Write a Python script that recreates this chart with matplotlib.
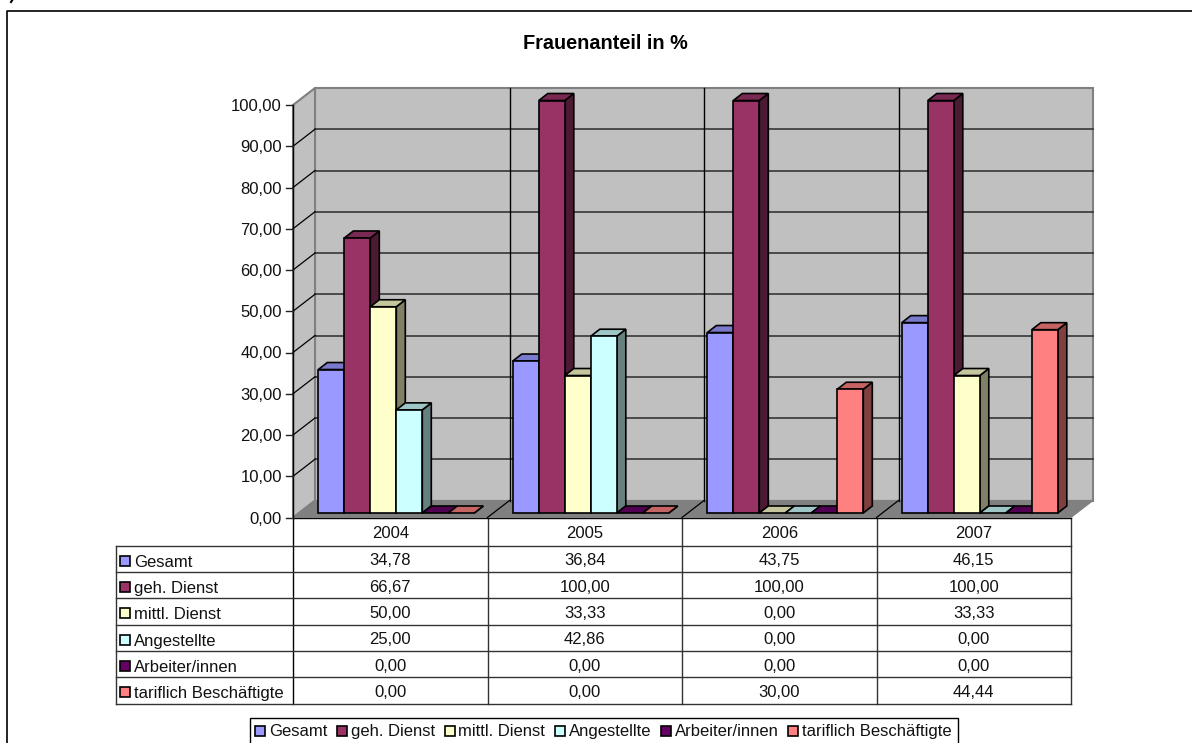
import numpy as np
import matplotlib
matplotlib.use("Agg")
import matplotlib.pyplot as plt
from matplotlib.patches import Polygon, Rectangle

plt.rcParams['font.family'] = ['Liberation Sans', 'DejaVu Sans']

# Data
years = ['2004', '2005', '2006', '2007']
series = ['Gesamt', 'geh. Dienst', 'mittl. Dienst', 'Angestellte', 'Arbeiter/innen', 'tariflich Beschäftigte']
gesamt = [34.78, 36.84, 43.75, 46.15]
geh_dienst = [66.67, 100.00, 100.00, 100.00]
mittl_dienst = [50.00, 33.33, 0.00, 33.33]
angestellte = [25.00, 42.86, 0.00, 0.00]
arbeiter = [0.00, 0.00, 0.00, 0.00]
tariflich = [0.00, 0.00, 30.00, 44.44]
values = [gesamt, geh_dienst, mittl_dienst, angestellte, arbeiter, tariflich]
y_ticks = list(range(0, 101, 10))

# Face colours, then the darker top and side
colors = ['#9999FF', '#993366', '#FFFFCC', '#CCFFFF', '#660066', '#FF8080']
tops = ['#7A7ACC', '#7A2952', '#C6C69E', '#9EC6C6', '#520052', '#C66464']
sides = ['#4D4D80', '#4D1A33', '#808066', '#668080', '#330033', '#804040']
TEXT = '#111111'
FS = 12


def german(v):
    return f'{v:.2f}'.replace('.', ',')


W, H = 1192, 743
fig = plt.figure(figsize=(W / 100, H / 100), dpi=100)

# Pixel axes for frame, title, table and legend
page = fig.add_axes([0, 0, 1, 1])
page.set_xlim(0, W)
page.set_ylim(H, 0)
page.axis('off')

# Plot axes sit on the front plane of the 3D box
x0, x1, y_top, y_bot = 293, 1071, 105, 517.5
ax = fig.add_axes([x0 / W, 1 - y_bot / H, (x1 - x0) / W, (y_bot - y_top) / H])
ax.set_xlim(0, len(years))
ax.set_ylim(0, 100)
ax.axis('off')
ax.patch.set_alpha(0)

px_x = len(years) / (x1 - x0)
px_y = 100 / (y_bot - y_top)
box_dx, box_dy = 22 * px_x, 17 * px_y
n_years = len(years)

# Page frame
page.plot([6.5, 6.5, W + 5], [H + 5, 10.5, 10.5], color='black', lw=1.2, clip_on=False)
page.plot([11, 13], [2, -1], color='black', lw=1.5)
page.text(605, 43.5, 'Frauenanteil in %', ha='center', va='center', fontsize=14.3, fontweight='bold')

# Walls and floor
wall = '#C0C0C0'
edge = '#808080'
ax.add_patch(Polygon([(box_dx, box_dy), (n_years + box_dx, box_dy), (n_years + box_dx, 100 + box_dy), (box_dx, 100 + box_dy)],
                     fc=wall, ec=edge, lw=1.5, clip_on=False, zorder=1))
ax.add_patch(Polygon([(0, 0), (box_dx, box_dy), (box_dx, 100 + box_dy), (0, 100)],
                     fc=wall, ec=edge, lw=1.5, clip_on=False, zorder=1))
ax.add_patch(Polygon([(0, 0), (n_years, 0), (n_years + box_dx, box_dy), (box_dx, box_dy)],
                     fc=edge, ec=edge, lw=0.8, clip_on=False, zorder=1.5))

# Gridlines on the walls
for t in y_ticks[1:-1]:
    ax.plot([box_dx, n_years + box_dx], [t + box_dy, t + box_dy], color='#2A2A2A', lw=1.1, clip_on=False, zorder=2)
    ax.plot([0, box_dx], [t, t + box_dy], color='black', lw=0.9, clip_on=False, zorder=2)
for i in range(1, n_years):
    ax.plot([i + box_dx, i + box_dx], [box_dy, 100 + box_dy], color='black', lw=1.0, clip_on=False, zorder=2)
    ax.plot([i, i + box_dx], [0, box_dy], color='black', lw=0.9, clip_on=False, zorder=2)

# Left axis with ticks and labels
ax.plot([0, 0], [0, 100], color='black', lw=1.0, clip_on=False, zorder=2.5)
for t in y_ticks:
    ax.plot([-7 * px_x, 0], [t, t], color='#222222', lw=1.0, clip_on=False, zorder=2.5)
    ax.text(-11 * px_x, t, german(t), ha='right', va='center_baseline', fontsize=FS, color=TEXT)

# Bars, drawn back to front inside each group
bar_w = 26 * px_x
margin = 19.5 * px_x
front_dx, front_dy = 5.8 * px_x, 4.5 * px_y
depth_dx, depth_dy = 9 * px_x, 7 * px_y
z = 3
for g in range(n_years):
    for s in range(len(series)):
        v = values[s][g]
        left = g + margin + s * bar_w + front_dx
        right = left + bar_w
        base = front_dy
        top = base + v
        ax.add_patch(Polygon([(right, base), (right + depth_dx, base + depth_dy), (right + depth_dx, top + depth_dy), (right, top)],
                             fc=sides[s], ec='black', lw=1.2, clip_on=False, zorder=z))
        ax.add_patch(Polygon([(left, top), (right, top), (right + depth_dx, top + depth_dy), (left + depth_dx, top + depth_dy)],
                             fc=tops[s], ec='black', lw=1.2, clip_on=False, zorder=z))
        if v > 0:
            ax.add_patch(Rectangle((left, base), bar_w, v, fc=colors[s], ec='black', lw=1.2, clip_on=False, zorder=z + 0.1))
        z += 0.2

# Data table
col_x = np.linspace(x0, x1, n_years + 1)
row_y = [545.7 + 26.3 * i for i in range(len(series) + 1)]
table_left = 115.5
line = '#333333'
page.plot([x0, x0], [y_bot, row_y[-1]], color='black', lw=1.0)
for cx in col_x[1:]:
    page.plot([cx, cx], [y_bot, row_y[-1]], color=line, lw=1.0)
page.plot([table_left, table_left], [row_y[0], row_y[-1]], color=line, lw=1.0)
page.plot([x0, x1], [y_bot, y_bot], color='black', lw=1.0)
for ry in row_y:
    page.plot([table_left, x1], [ry, ry], color=line, lw=1.0)
for g, year in enumerate(years):
    page.text((col_x[g] + col_x[g + 1]) / 2, 531.5, year, ha='center', va='center_baseline', fontsize=FS, color=TEXT)
for s, name in enumerate(series):
    cy = (row_y[s] + row_y[s + 1]) / 2
    page.add_patch(Rectangle((119.5, cy - 3), 10, 10, fc=colors[s], ec='black', lw=1.2))
    page.text(134, cy + 2, name, ha='left', va='center_baseline', fontsize=FS, color=TEXT)
    for g in range(n_years):
        page.text((col_x[g] + col_x[g + 1]) / 2, cy + 0.5, german(values[s][g]), ha='center', va='center_baseline',
                  fontsize=FS, color=TEXT)

# Legend box runs off the bottom of the picture; entries placed one after the other by text width
renderer = fig.canvas.get_renderer()
page.add_patch(Rectangle((249.5, 717.5), 708, 40, fc='white', ec='black', lw=1.0))
pos = 255
for s, name in enumerate(series):
    page.add_patch(Rectangle((pos, 725.5), 10, 10, fc=colors[s], ec='black', lw=1.2))
    label = page.text(pos + 14, 730, name, ha='left', va='center_baseline', fontsize=FS, color=TEXT)
    pos += 14 + label.get_window_extent(renderer).width + 9.5

fig.savefig('out.png', dpi=100)
